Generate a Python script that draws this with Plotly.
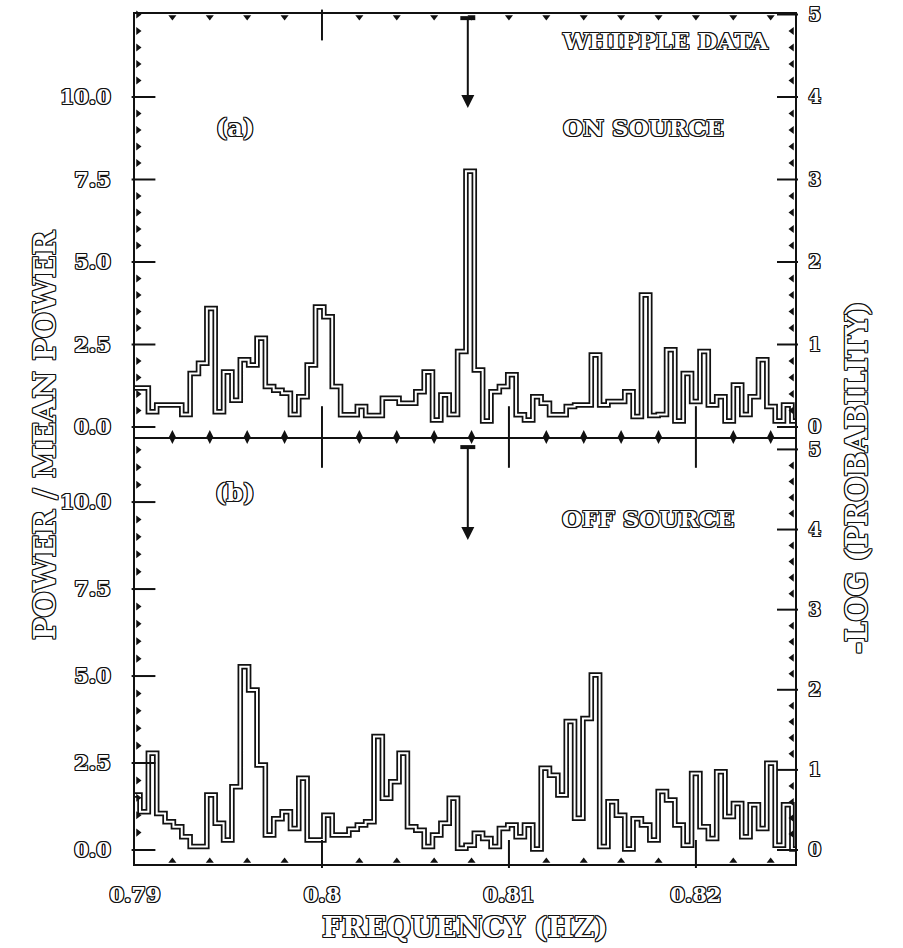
import numpy as np
import plotly.graph_objects as go

# Spectral grid (Hz): lower edge of the first bin and the bin width
f_start = 0.78982
bin_width = 0.000447

# Power / mean power per frequency bin, on-source (a) and off-source (b)
power_on = [1.18, 1.18, 0.46, 0.67, 0.67, 0.67, 0.38, 1.62, 1.93, 3.59,
            0.46, 1.67, 0.81, 2.04, 1.88, 2.69, 1.23, 1.11, 1.02, 0.38,
            0.92, 1.88, 3.64, 3.34, 1.23, 0.37, 0.37, 0.62, 0.35, 0.35,
            0.87, 0.87, 0.72, 0.72, 1.07, 1.67, 0.21, 0.97, 0.38, 2.29,
            7.75, 1.73, 0.18, 1.07, 1.23, 1.58, 0.37, 0.21, 0.92, 0.72,
            0.37, 0.37, 0.62, 0.67, 0.67, 2.18, 0.67, 0.77, 0.77, 1.07,
            0.32, 4.00, 0.35, 0.38, 2.34, 0.18, 1.62, 0.77, 2.29, 0.67,
            0.92, 0.18, 1.27, 0.38, 0.92, 2.04, 0.62, 0.18, 0.67, 0.18]

power_off = [1.58, 1.10, 2.78, 1.05, 0.81, 0.67, 0.38, 0.10, 0.10, 1.58,
             0.77, 0.29, 1.82, 5.27, 4.60, 2.44, 0.43, 0.90, 1.10, 0.62,
             2.06, 0.29, 0.29, 1.00, 0.43, 0.43, 0.60, 0.72, 0.81, 3.26,
             1.49, 1.96, 2.78, 0.67, 0.57, 0.10, 0.43, 0.77, 1.49, 0.05,
             0.14, 0.48, 0.33, 0.10, 0.62, 0.72, 0.38, 0.72, 0.03, 2.35,
             2.15, 1.58, 3.69, 0.91, 3.78, 5.03, 0.10, 1.39, 1.00, 0.03,
             0.90, 0.72, 0.29, 1.68, 1.44, 0.72, 0.14, 2.20, 0.67, 0.33,
             2.25, 0.96, 1.34, 0.38, 1.30, 0.62, 2.49, 0.14, 1.30, 0.03]

# Expected pulse frequency (Hz), marked with an arrow in both panels
pulse_freq = 0.8078

x_tickvals = [0.79, 0.80, 0.81, 0.82]
x_ticktext = ["0.79", "0.8", "0.81", "0.82"]
top_long_ticks = [0.80]
left_tickvals = [0, 2.5, 5, 7.5, 10]
left_ticktext = ["0.0", "2.5", "5.0", "7.5", "10.0"]
right_tickvals = [0, 1, 2, 3, 4, 5]

X_RANGE = [0.79, 0.8253]
YA_RANGE = [-0.303, 12.515]   # panel (a)
YB_RANGE = [-0.402, 11.87]    # panel (b)
# power units per unit of -log(probability) on each panel's right axis
RIGHT_SCALE_A = 2.5
RIGHT_SCALE_B = np.log(10.0)
SPLIT = 0.50235

W, H = 903, 948
ML, MR, MT, MB = 135, 108, 14, 84
PW, PH = W - ML - MR, H - MT - MB

FONT = "DejaVu Serif"
INK = "#111111"
# thin dark outline around light glyphs: hollow lettering
OUTLINE = ", ".join(f"{dx}px {dy}px 0 {INK}" for dx, dy in
                    [(1, 0), (-1, 0), (0, 1), (0, -1),
                     (1, 1), (-1, -1), (1, -1), (-1, 1)])

# data units per screen pixel
XPP = (X_RANGE[1] - X_RANGE[0]) / PW
YPP_A = (YA_RANGE[1] - YA_RANGE[0]) / (PH * (1 - SPLIT))
YPP_B = (YB_RANGE[1] - YB_RANGE[0]) / (PH * SPLIT)


def px_to_paper(x, y):
    return (x - ML) / PW, (H - MB - y) / PH


def step_xy(values):
    n = len(values)
    edges = f_start + bin_width * np.arange(n + 1)
    return edges, list(values) + [values[-1]]


def hollow_font(size, bold=True):
    return dict(family=FONT, size=size, color="white",
                weight="bold" if bold else "normal", shadow=OUTLINE)


fig = go.Figure()

for values, xa, ya in [(power_on, "x2", "y2"), (power_off, "x", "y")]:
    ex, ey = step_xy(values)
    # dark outer stroke with a light core gives the hollow double-line look
    fig.add_trace(go.Scatter(x=ex, y=ey, mode="lines", line_shape="hv",
                             line=dict(color=INK, width=5.5),
                             xaxis=xa, yaxis=ya, hoverinfo="skip",
                             showlegend=False))
    fig.add_trace(go.Scatter(x=ex, y=ey, mode="lines", line_shape="hv",
                             line=dict(color="white", width=2),
                             xaxis=xa, yaxis=ya, hoverinfo="skip",
                             showlegend=False))


# ---- tick marks, drawn as markers sized in pixels ----
def mark_trace(xs, ys, symbol, size, xa, ya):
    xs, ys = list(xs), list(ys)
    is_line = symbol.startswith("line")
    fig.add_trace(go.Scatter(
        x=xs, y=ys, mode="markers", cliponaxis=False,
        marker=dict(symbol=symbol, size=size, color=INK,
                    line=dict(width=2 if is_line else 0, color=INK)),
        xaxis=xa, yaxis=ya, hoverinfo="skip", showlegend=False))


def near_any(v, vals):
    return min(abs(v - t) for t in vals) < 1e-6


x0, x1 = X_RANGE
x_minor = [v for v in np.arange(0.792, x1, 0.002)
           if not near_any(v, x_tickvals)]
x_major = [v for v in x_tickvals if v > x0 + 1e-6]
top_small = [v for v in np.arange(0.792, x1, 0.002)
             if not near_any(v, top_long_ticks)]

ya0, ya1 = YA_RANGE
yb0, yb1 = YB_RANGE
# panel (a): top border
mark_trace(top_long_ticks, [ya1 - 11 * YPP_A] * len(top_long_ticks),
           "line-ns", 22, "x2", "y2")
mark_trace(top_small, [ya1 - 3 * YPP_A] * len(top_small), "triangle-down",
           7, "x2", "y2")
# shared middle axis: long crossing majors and small diamonds
mark_trace(x_major, [ya0] * len(x_major), "line-ns", 44, "x2", "y2")
mark_trace(x_minor, [ya0] * len(x_minor), "diamond-tall", 10, "x2", "y2")
# panel (b): bottom border
mark_trace(x_major, [yb0 + 10 * YPP_B] * len(x_major), "line-ns", 20,
           "x", "y")
mark_trace(x_minor, [yb0 + 3 * YPP_B] * len(x_minor), "triangle-up", 7,
           "x", "y")

# left axes: major dashes and minor triangles every 0.5
for xa, ya, (lo, hi) in [("x2", "y2", YA_RANGE), ("x", "y", YB_RANGE)]:
    mark_trace([x0 + 8.5 * XPP] * len(left_tickvals), left_tickvals,
               "line-ew", 17, xa, ya)
    minor = [v for v in np.arange(0.5, hi, 0.5)
             if not near_any(v, left_tickvals)]
    mark_trace([x0 + 3 * XPP] * len(minor), minor, "triangle-right", 7,
               xa, ya)

# right axes: -log(probability), major dashes and minor triangles every 0.2
for xa, ya, (lo, hi), k in [("x2", "y3", YA_RANGE, RIGHT_SCALE_A),
                            ("x", "y4", YB_RANGE, RIGHT_SCALE_B)]:
    mark_trace([x1 - 7.5 * XPP] * len(right_tickvals), right_tickvals,
               "line-ew", 15, xa, ya)
    minor = [v for v in np.arange(0.2, hi / k, 0.2)
             if not near_any(v, right_tickvals)]
    mark_trace([x1 - 3 * XPP] * len(minor), minor, "triangle-left", 7,
               xa, ya)

axis_common = dict(showline=True, linecolor=INK, linewidth=2,
                   showgrid=False, zeroline=False, ticks="",
                   automargin=False, tickfont=hollow_font(21))
right_common = dict(axis_common, side="right", ticklabelstandoff=8,
                    tickvals=right_tickvals, tickfont=hollow_font(18))

fig.update_layout(
    width=W, height=H,
    margin=dict(l=ML, r=MR, t=MT, b=MB, autoexpand=False),
    paper_bgcolor="white", plot_bgcolor="white",
    showlegend=False,
    xaxis=dict(axis_common, domain=[0, 1], anchor="y", range=X_RANGE,
               tickvals=x_tickvals, ticktext=x_ticktext,
               ticklabelstandoff=11),
    xaxis2=dict(axis_common, domain=[0, 1], anchor="y2", range=X_RANGE,
                matches="x", mirror=True, showticklabels=False),
    yaxis=dict(axis_common, domain=[0, SPLIT], range=YB_RANGE, anchor="x",
               tickvals=left_tickvals, ticktext=left_ticktext,
               ticklabelstandoff=18),
    yaxis2=dict(axis_common, domain=[SPLIT, 1], range=YA_RANGE, anchor="x2",
                tickvals=left_tickvals, ticktext=left_ticktext,
                ticklabelstandoff=18),
    yaxis3=dict(right_common, overlaying="y2", anchor="x2",
                range=[v / RIGHT_SCALE_A for v in YA_RANGE]),
    yaxis4=dict(right_common, overlaying="y", anchor="x",
                range=[v / RIGHT_SCALE_B for v in YB_RANGE]),
)

# arrows at the expected pulse frequency, with a T-bar at the tail
for xa, ya, y_top, y_tip in [("x2", "y2", 12.39, 9.67),
                             ("x", "y", 11.58, 8.91)]:
    fig.add_annotation(x=pulse_freq, y=y_tip, ax=pulse_freq, ay=y_top,
                       xref=xa, yref=ya, axref=xa, ayref=ya,
                       showarrow=True, arrowhead=2, arrowsize=1.3,
                       arrowwidth=2, arrowcolor=INK, text="")
    fig.add_shape(type="line", xref=xa, yref=ya,
                  x0=pulse_freq - 0.0004, x1=pulse_freq + 0.0004,
                  y0=y_top, y1=y_top, line=dict(color=INK, width=4))

# ---- texts ----
texts = [
    ("WHIPPLE DATA", 665, 40, 23, 0),
    ("ON SOURCE", 643, 127, 23, 0),
    ("(a)", 235, 127, 24, 0),
    ("(b)", 235, 492, 24, 0),
    ("OFF SOURCE", 648, 518, 23, 0),
    ("POWER / MEAN POWER", 45, 435, 30, -90),
    ("-LOG (PROBABILITY)", 857, 478, 29, -90),
    ("FREQUENCY (HZ)", 465, 928, 28, 0),
]
for txt, px, py, size, angle in texts:
    xp, yp = px_to_paper(px, py)
    fig.add_annotation(text=txt, x=xp, y=yp, xref="paper", yref="paper",
                       showarrow=False, xanchor="center", yanchor="middle",
                       textangle=angle, font=hollow_font(size))

fig.write_html("out.html")
